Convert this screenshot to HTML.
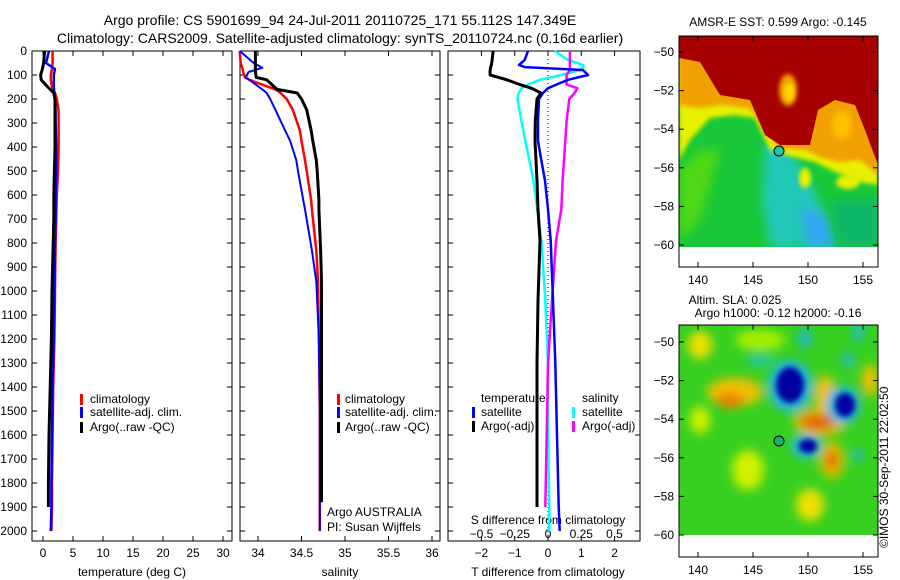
<!DOCTYPE html>
<html><head><meta charset="utf-8">
<style>
html,body{margin:0;padding:0;background:#fff;}
svg{display:block;font-family:"Liberation Sans",sans-serif;}
text{fill:#000;}
</style></head>
<body>
<svg id="chart" width="900" height="580" viewBox="0 0 900 580" xmlns="http://www.w3.org/2000/svg">
<defs>
<filter id="blur2" x="-20%" y="-20%" width="140%" height="140%"><feGaussianBlur stdDeviation="2"/></filter>
<filter id="blur3" x="-20%" y="-20%" width="140%" height="140%"><feGaussianBlur stdDeviation="3"/></filter>
<filter id="blur5" x="-30%" y="-30%" width="160%" height="160%"><feGaussianBlur stdDeviation="5"/></filter>
<clipPath id="clipMap1"><rect x="679" y="36" width="199" height="211"/></clipPath>
<clipPath id="clipMap2"><rect x="679" y="325" width="199" height="210"/></clipPath>
</defs>
<text x="340" y="25" font-size="14" text-anchor="middle">Argo profile: CS 5901699_94 24-Jul-2011 20110725_171 55.112S 147.349E</text>
<text x="340" y="43" font-size="14" text-anchor="middle">Climatology: CARS2009. Satellite-adjusted climatology: synTS_20110724.nc (0.16d earlier)</text>

<g id="maps">
 <g clip-path="url(#clipMap1)">
  <rect x="679" y="36" width="199" height="211" fill="#18c838"/>
  <polygon points="679,170 700,150 720,150 700,220 679,240" fill="#50d818" filter="url(#blur5)"/>
  <polygon points="765,140 790,150 815,190 835,247 770,247 762,200" fill="#20c8b8" filter="url(#blur5)"/>
  <polygon points="800,205 825,215 835,247 808,247" fill="#30a8f0" filter="url(#blur5)"/>
  <polygon points="830,200 878,200 878,247 840,247" fill="#10b868" filter="url(#blur5)"/>
  <polygon points="679,36 878,36 878,185 860,182 835,172 815,162 790,156 770,150 755,118 735,115 710,118 690,140 679,160" fill="#e8f000" filter="url(#blur2)"/>
  <polygon points="679,36 878,36 878,175 860,160 840,162 822,158 805,150 780,148 765,132 750,108 720,105 700,108 679,105" fill="#f0a000" filter="url(#blur2)"/>
  <polygon points="679,36 878,36 878,165 865,130 855,105 835,100 818,110 810,145 780,145 765,135 750,100 720,95 700,62 679,58" fill="#a60000"/>
  <ellipse cx="788" cy="90" rx="9" ry="16" fill="#f0a000" filter="url(#blur2)"/>
  <ellipse cx="789" cy="92" rx="5" ry="9" fill="#ffd800" filter="url(#blur2)"/>
  <ellipse cx="842" cy="125" rx="10" ry="14" fill="#ffc000" filter="url(#blur3)"/>
  <ellipse cx="805" cy="178" rx="6" ry="10" fill="#e8f000" filter="url(#blur2)"/>
  <ellipse cx="848" cy="182" rx="12" ry="7" fill="#e8f000" filter="url(#blur2)"/>
 </g>
 <rect x="679" y="36" width="199" height="231" fill="none" stroke="#000" stroke-width="1"/>
 <text x="778" y="26" font-size="12" text-anchor="middle">AMSR-E SST: 0.599 Argo: -0.145</text>
 <circle cx="779" cy="151" r="5" fill="#20c8b0" stroke="#000" stroke-width="1"/>

 <g clip-path="url(#clipMap2)">
  <rect x="679" y="325" width="199" height="210" fill="#38d020"/>
  <g filter="url(#blur5)">
   <ellipse cx="700" cy="345" rx="12" ry="14" fill="#f0e000"/>
   <ellipse cx="760" cy="340" rx="25" ry="10" fill="#a8f000"/>
   <ellipse cx="735" cy="392" rx="28" ry="14" fill="#f0c000"/>
   <ellipse cx="730" cy="400" rx="14" ry="8" fill="#f08000"/>
   <ellipse cx="820" cy="422" rx="26" ry="14" fill="#f0c000"/>
   <ellipse cx="818" cy="422" rx="18" ry="8" fill="#e06000"/>
   <ellipse cx="825" cy="395" rx="10" ry="20" fill="#f0c000"/>
   <ellipse cx="832" cy="460" rx="12" ry="18" fill="#f0c000"/>
   <ellipse cx="832" cy="460" rx="6" ry="10" fill="#e06000"/>
   <ellipse cx="870" cy="380" rx="8" ry="16" fill="#f0c000"/>
   <ellipse cx="748" cy="470" rx="16" ry="20" fill="#d0f000"/>
   <ellipse cx="810" cy="505" rx="14" ry="16" fill="#f0e000"/>
   <ellipse cx="700" cy="420" rx="10" ry="14" fill="#d0f000"/>
   <ellipse cx="760" cy="360" rx="14" ry="6" fill="#20c8a0"/>
   <ellipse cx="805" cy="338" rx="6" ry="10" fill="#20b8e0"/>
   <ellipse cx="848" cy="360" rx="5" ry="8" fill="#20b8e0"/>
   <ellipse cx="858" cy="332" rx="5" ry="10" fill="#20b8e0"/>
   <ellipse cx="790" cy="386" rx="22" ry="26" fill="#20b8e0"/>
   <ellipse cx="843" cy="405" rx="17" ry="19" fill="#20b8e0"/>
   <ellipse cx="806" cy="446" rx="15" ry="12" fill="#20b8e0"/>
   <ellipse cx="858" cy="455" rx="5" ry="6" fill="#20b8e0"/>
  </g>
  <g filter="url(#blur3)">
   <ellipse cx="790" cy="385" rx="14" ry="18" fill="#0000a0"/>
   <ellipse cx="845" cy="405" rx="10" ry="12" fill="#0000a0"/>
   <ellipse cx="808" cy="446" rx="9" ry="7" fill="#0000a0"/>
  </g>
 </g>
 <rect x="679" y="325" width="199" height="232" fill="none" stroke="#000" stroke-width="1"/>
 <text x="735" y="304" font-size="12" text-anchor="middle">Altim. SLA: 0.025</text>
 <text x="778" y="317" font-size="12" text-anchor="middle">Argo h1000: -0.12 h2000: -0.16</text>
 <circle cx="779" cy="441" r="5" fill="#10b870" stroke="#000" stroke-width="1"/>
 <text transform="translate(888,548) rotate(-90)" font-size="12">©IMOS 30-Sep-2011 22:02:50</text>
</g>
<g id="plots"></g>
</svg>
<script>
// ---- data ----
const depths = [0,20,50,75,100,120,150,175,200,250,300,400,500,600,700,800,1000,1200,1400,1600,1800,1900,2000];
const tempClim = [1.6,1.6,1.6,1.5,1.3,1.3,1.5,2.0,2.3,2.6,2.6,2.6,2.5,2.3,2.2,2.1,2.0,1.9,1.7,1.6,1.5,1.5,1.4];
const tempSat  = [1.0,0.8,0.5,2.0,1.8,1.8,1.8,1.9,2.0,2.1,2.1,2.2,2.2,2.1,2.1,2.0,1.9,1.8,1.6,1.5,1.4,1.4,1.3];
const tempArgo = [0.3,0.2,0.1,-0.1,-0.4,-0.3,0.8,1.8,2.0,2.0,2.0,2.0,1.9,1.8,1.8,1.7,1.5,1.4,1.2,1.0,0.9,0.9,null];
const salDepths = [0,50,70,88,110,120,160,175,200,245,330,375,455,500,620,660,830,960,1200,1500,1880,2000];
const salClim = [33.79,33.8,33.82,33.83,33.85,33.9,34.2,34.26,34.33,34.4,34.48,34.5,34.54,34.56,34.61,34.62,34.67,34.69,34.7,34.71,34.71,34.71];
const salSat  = [33.79,33.95,34.05,33.89,33.86,33.9,34.05,34.1,34.14,34.2,34.31,34.37,34.44,34.46,34.52,34.54,34.62,34.67,34.7,34.71,34.71,34.71];
const salArgo = [33.97,33.97,33.97,33.97,33.98,34.1,34.22,34.45,34.5,34.56,34.61,34.63,34.67,34.68,34.7,34.7,34.72,34.73,34.73,34.73,34.73,null];
const diffDepths = [0,37,58,67,79,100,120,140,155,175,200,290,375,455,540,660,790,1040,1300,1600,1900,2000];
const dTSat  = [-0.6,-0.7,-0.87,-0.7,1.05,1.2,0.6,0.25,0.0,-0.15,-0.27,-0.3,-0.3,-0.2,-0.09,0.0,0.08,0.15,0.22,0.27,0.32,0.35];
const dTArgo = [-1.65,-1.68,-1.7,-1.72,-1.74,-1.74,-1.23,-0.84,-0.5,-0.21,-0.33,-0.38,-0.39,-0.36,-0.33,-0.3,-0.24,-0.3,-0.33,-0.33,-0.33,null];
const dSSat  = [0.05,0.15,0.26,0.27,0.24,0.1,-0.06,-0.15,-0.2,-0.22,-0.23,-0.2,-0.17,-0.14,-0.11,-0.08,-0.05,-0.02,0.0,0.0,0.01,0.01];
const dSArgo = [0.165,0.165,0.165,0.165,0.165,0.14,0.14,0.14,0.22,0.2,0.16,0.14,0.13,0.12,0.11,0.1,0.06,0.03,0.0,-0.01,-0.02,null];
const depthTicks = [0,100,200,300,400,500,600,700,800,900,1000,1100,1200,1300,1400,1500,1600,1700,1800,1900,2000];
const tempTicks = [0,5,10,15,20,25,30];
const salTicks = [34,34.5,35,35.5,36];
const tDiffTicks = [-2,-1,0,1,2];
const sDiffTicks = [-0.5,-0.25,0,0.25,0.5];
const sDiffLabels = ["\u22120.5","\u22120.25","0","0.25","0.5"];
const tDiffLabels = ["\u22122","\u22121","0","1","2"];

// ---- axes ----
const TOP=51, BOT=541;
const yD = d => TOP + d*0.24;
const xT = t => 43 + 6*t;
const xS = s => 258 + 87*(s-34);
const xDT = t => 548 + 33.3*t;
const xDS = s => 548 + 133*s;

const NS="http://www.w3.org/2000/svg";
const root=document.getElementById('plots');
function mk(tag, attrs, parent){const e=document.createElementNS(NS,tag);for(const k in attrs)e.setAttribute(k,attrs[k]);(parent||root).appendChild(e);return e;}

function frame(x0,x1,name){
  const r=mk('rect',{x:x0,y:TOP,width:x1-x0,height:BOT-TOP,fill:'none',stroke:'#000','stroke-width':1});
  
  
  depthTicks.forEach(d=>{
    mk('line',{x1:x0,x2:x0+5,y1:yD(d),y2:yD(d),stroke:'#000'});
    mk('line',{x1:x1,x2:x1-5,y1:yD(d),y2:yD(d),stroke:'#000'});
  });
}
function xticks(vals,fx,x0,labels,name){
  vals.forEach((v,i)=>{
    mk('line',{x1:fx(v),x2:fx(v),y1:TOP,y2:TOP+5,stroke:'#000'});
    mk('line',{x1:fx(v),x2:fx(v),y1:BOT,y2:BOT-5,stroke:'#000'});
    const t=mk('text',{x:fx(v),y:BOT+16,'font-size':12,'text-anchor':'middle'});
    t.textContent=labels?labels[i]:String(v);
    
    
  });
}
function line(xs,ds,fx,color,w,name){
  let pts=[];
  for(let i=0;i<xs.length;i++){ if(xs[i]===null) break; pts.push(fx(xs[i]).toFixed(1)+','+yD(ds[i]).toFixed(1)); }
  const p=mk('polyline',{points:pts.join(' '),fill:'none',stroke:color,'stroke-width':w,'stroke-linejoin':'round'});
  
  
}
function label(x,y,txt,name,anchor,size){
  const t=mk('text',{x:x,y:y,'font-size':size||12,'text-anchor':anchor||'start'});
  t.textContent=txt;
  
  
}
function legMark(x,y,color,name){
  const r=mk('rect',{x:x,y:y-9,width:3,height:11,fill:color});
  
  
}

// panel 1 temperature
frame(32,232,'temperature-panel');
depthTicks.forEach(d=>label(27,yD(d)+4,String(d),'depth-tick-label','end'));
xticks(tempTicks,xT,32,null,'temperature-tick-label');
label(132,576,'temperature (deg C)','temperature-axis-title','middle');
line(tempClim,depths,xT,'#ff0000',2.5,'temperature-climatology-line');
line(tempSat,depths,xT,'#0000ff',2.5,'temperature-satellite-line');
line(tempArgo,depths,xT,'#000000',3,'temperature-argo-line');
legMark(80,403,'#ff0000','legend-climatology-marker');label(90,403,'climatology','legend-climatology');
legMark(80,416,'#0000ff','legend-satellite-marker');label(90,416,'satellite-adj. clim.','legend-satellite');
legMark(80,431,'#000','legend-argo-marker');label(90,431,'Argo(..raw -QC)','legend-argo');

// panel 2 salinity
frame(240,440,'salinity-panel');
xticks(salTicks,xS,240,null,'salinity-tick-label');
label(340,576,'salinity','salinity-axis-title','middle');
line(salClim,salDepths,xS,'#ff0000',2.5,'salinity-climatology-line');
line(salSat,salDepths,xS,'#0000ff',2,'salinity-satellite-line');
line(salArgo,salDepths,xS,'#000000',3,'salinity-argo-line');
legMark(337,403,'#ff0000','legend2-climatology-marker');label(345,403,'climatology','legend2-climatology');
legMark(337,416,'#0000ff','legend2-satellite-marker');label(345,416,'satellite-adj. clim.','legend2-satellite');
legMark(337,431,'#000','legend2-argo-marker');label(345,431,'Argo(..raw -QC)','legend2-argo');
label(327,516,'Argo AUSTRALIA','argo-australia-note');
label(327,531,'PI: Susan Wijffels','pi-note');

// panel 3 differences
frame(448,640,'difference-panel');
xticks(tDiffTicks,xDT,448,tDiffLabels,'t-diff-tick-label');
sDiffTicks.forEach((v,i)=>label(xDS(v),538,sDiffLabels[i],'s-diff-tick-label','middle'));
label(548,524,'S difference from climatology','s-diff-axis-title','middle');
label(548,576,'T difference from climatology','t-diff-axis-title','middle');
mk('line',{x1:548,x2:548,y1:TOP,y2:BOT,stroke:'#000','stroke-dasharray':'1,3'});
line(dSSat,diffDepths,xDS,'#00ffff',2.5,'salinity-satellite-diff-line');
line(dSArgo,diffDepths,xDS,'#ff00ff',2.5,'salinity-argo-diff-line');
line(dTSat,diffDepths,xDT,'#0000ff',2.5,'temperature-satellite-diff-line');
line(dTArgo,diffDepths,xDT,'#000000',3,'temperature-argo-diff-line');
label(481,402,'temperature','legend3-temperature-header');
legMark(472,416,'#0000ff','legend3-t-satellite-marker');label(481,416,'satellite','legend3-t-satellite');
legMark(472,430,'#000','legend3-t-argo-marker');label(481,430,'Argo(-adj)','legend3-t-argo');
label(582,402,'salinity','legend3-salinity-header');
legMark(572,416,'#00ffff','legend3-s-satellite-marker');label(582,416,'satellite','legend3-s-satellite');
legMark(572,430,'#ff00ff','legend3-s-argo-marker');label(582,430,'Argo(-adj)','legend3-s-argo');

// map axes
const lonTicks=[140,145,150,155];
const latTicks=[-50,-52,-54,-56,-58,-60];
const xLon=l=>698+11*(l-140);
function mapAxes(top,bottom,lat50,name){
  const yLat=l=>lat50+19.3*(-50-l);
  lonTicks.forEach(l=>{
    mk('line',{x1:xLon(l),x2:xLon(l),y1:top,y2:top+5,stroke:'#000'});
    mk('line',{x1:xLon(l),x2:xLon(l),y1:bottom,y2:bottom-5,stroke:'#000'});
    label(xLon(l),bottom+17,String(l),name+'-lon-label','middle');
  });
  latTicks.forEach(l=>{
    mk('line',{x1:679,x2:684,y1:yLat(l),y2:yLat(l),stroke:'#000'});
    mk('line',{x1:878,x2:873,y1:yLat(l),y2:yLat(l),stroke:'#000'});
    label(674,yLat(l)+4,String(l).replace('-','\u2212'),name+'-lat-label','end');
  });
}
mapAxes(36,267,52,'sst-map');
mapAxes(325,557,342,'sla-map');
</script>
</body></html>
